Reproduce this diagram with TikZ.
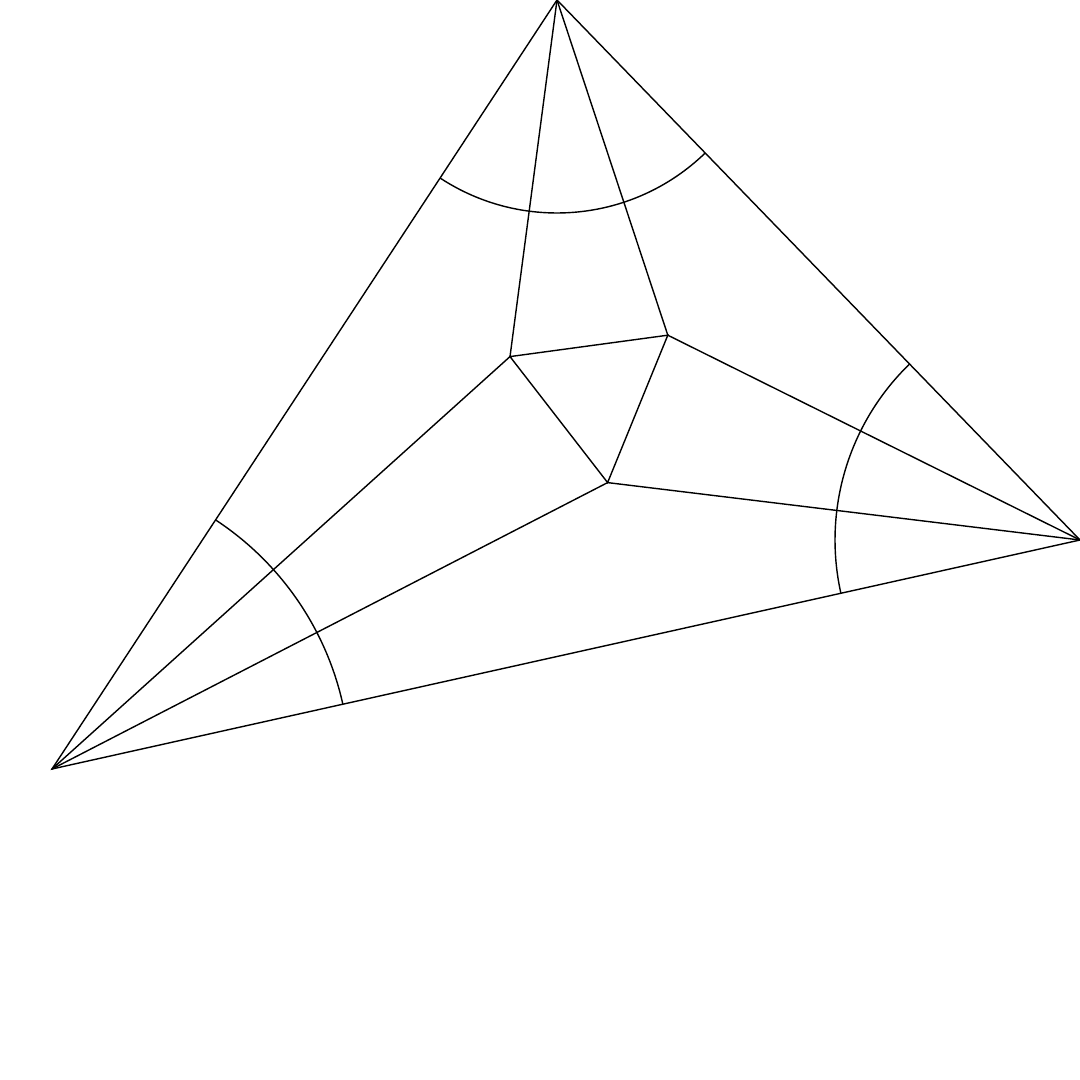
\documentclass[tikz,border=0pt]{standalone}
\begin{document}
\begin{tikzpicture}
			\useasboundingbox (0,0) rectangle (10.8,-10.8);
			\coordinate (A) at (0.52,-7.69);
			\coordinate (B) at (10.80,-5.40);
			\coordinate (C) at (5.57,0);
			\coordinate (ab) at (6.076,-4.826);
			\coordinate (bc) at (6.678,-3.352);
			\coordinate (ca) at (5.100,-3.566);
			\draw (A) -- (B) -- (C) -- cycle;
			\draw (ca) -- (bc) -- (ab) -- cycle;
			\foreach \p in {ab,ca}{
				\draw (A) -- (\p);
			}
			\foreach \p in {ab,bc}{
				\draw (B) -- (\p);
			}
			\foreach \p in {bc,ca}{
				\draw (C) -- (\p);
			}
			\draw (A) ++(12.558:2.98) arc (12.558:56.704:2.98);
			\draw (B) ++(134.084:2.45) arc (134.084:192.558:2.45);
			\draw (C) ++(-123.296:2.13) arc (-123.296:-45.916:2.13);
		\end{tikzpicture}
\end{document}
